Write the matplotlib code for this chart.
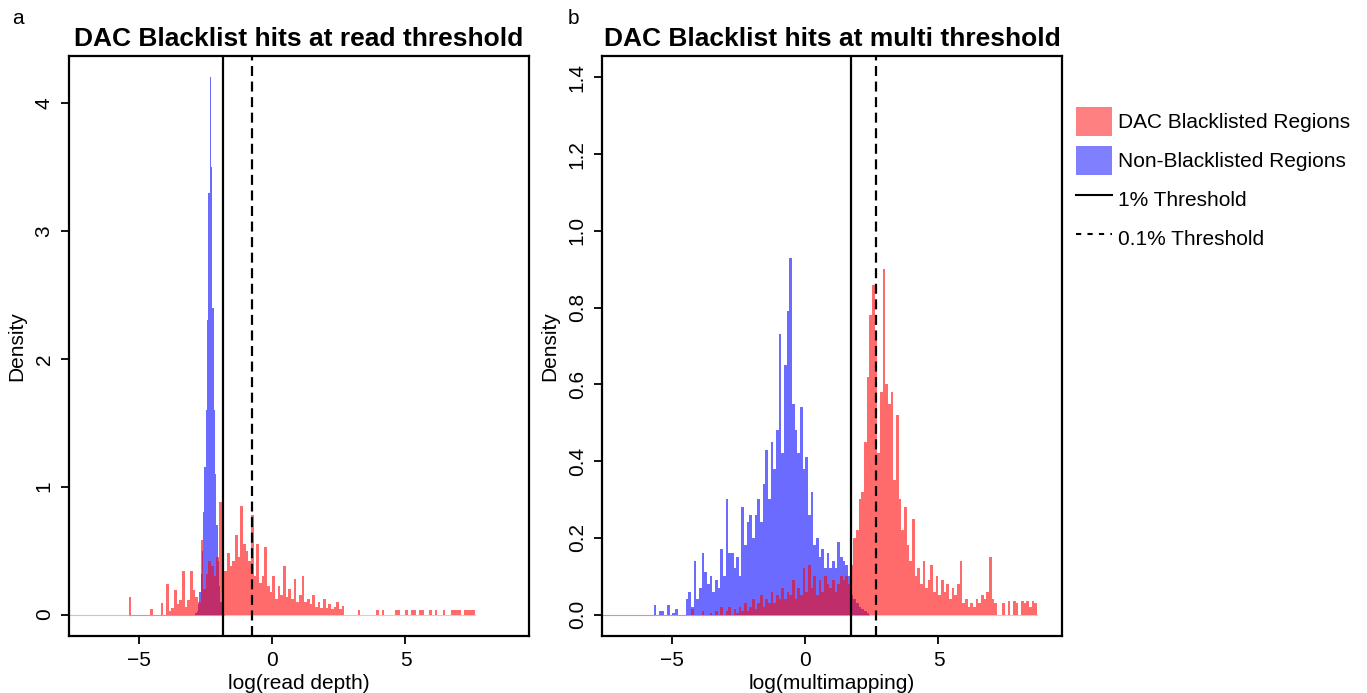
import numpy as np
import matplotlib
matplotlib.use("Agg")
import matplotlib.pyplot as plt
from matplotlib.patches import Patch
from matplotlib.lines import Line2D

plt.rcParams['font.family'] = ['Liberation Sans', 'DejaVu Sans']

# ---- panel a: log(read depth) ----
# blacklisted regions, density per 0.1 bin starting at -5.4
read_bl_start = -5.4
read_bl_width = 0.1
read_bl = [
    0.14, 0, 0, 0, 0, 0, 0, 0, 0.04, 0,
    0, 0, 0.09, 0, 0.24, 0.03, 0.05, 0.19, 0.08, 0.11,
    0.34, 0.06, 0.11, 0.34, 0.19, 0.14, 0.10, 0.58, 0.20, 0.32,
    0.42, 0.38, 0.30, 0.45, 0.88, 0.62, 0.34, 0.48, 0.38, 0.42,
    0.62, 0.45, 0.85, 0.55, 0.50, 0.42, 0.78, 0.30, 0.55, 0.25,
    0.30, 0.53, 0.22, 0.18, 0.30, 0.12, 0.22, 0.15, 0.38, 0.14,
    0.20, 0.12, 0.28, 0.10, 0.15, 0.30, 0.10, 0.12, 0.08, 0.15,
    0.06, 0.10, 0.05, 0.12, 0.05, 0.08, 0.04, 0.06, 0.10, 0.04,
    0.07, 0, 0, 0, 0, 0, 0.035, 0, 0, 0,
    0, 0, 0, 0.035, 0, 0.035, 0, 0, 0, 0,
    0.035, 0.035, 0, 0, 0.035, 0, 0.035, 0.035, 0, 0.035,
    0.035, 0, 0, 0.035, 0, 0.035, 0, 0, 0.035, 0,
    0, 0.035, 0.035, 0.035, 0.035, 0, 0.035, 0.035, 0.035, 0.035,
]
# non-blacklisted regions, density per 0.05 bin starting at -7.6
read_non_start = -7.6
read_non_width = 0.05
read_non = [0.0] * 94 + [
    0.01, 0.03, 0.08, 0.18, 0.32, 0.50, 0.80, 1.15, 1.60, 2.30,
    3.30, 4.20, 3.50, 2.40, 1.60, 1.10, 0.70, 0.42, 0.22, 0.10,
    0.04, 0.01,
]
read_thr_1 = -1.86
read_thr_01 = -0.77

# ---- panel b: log(multimapping) ----
# blacklisted regions, density per 0.1 bin starting at -7.6
multi_bl_start = -7.6
multi_bl_width = 0.1
multi_bl = [0.0] * 32 + [
    0, 0.015, 0, 0, 0, 0.01, 0, 0, 0.005, 0,
    0.01, 0, 0.02, 0, 0.01, 0.02, 0, 0.015, 0.005, 0.02,
    0.01, 0.03, 0.01, 0.02, 0.04, 0.015, 0.03, 0.05, 0.02, 0.04,
    0.03, 0.06, 0.03, 0.05, 0.04, 0.07, 0.04, 0.06, 0.05, 0.09,
    0.04, 0.07, 0.05, 0.12, 0.06, 0.13, 0.07, 0.10, 0.05, 0.09,
    0.06, 0.10, 0.08, 0.07, 0.09, 0.06, 0.08, 0.10, 0.09, 0.10,
    0.08, 0.13, 0.20, 0.22, 0.30, 0.32, 0.45, 0.62, 0.78, 0.86,
    0.72, 0.42, 0.58, 0.90, 0.60, 0.55, 0.58, 0.35, 0.52, 0.30,
    0.22, 0.28, 0.18, 0.14, 0.25, 0.10, 0.12, 0.08, 0.14, 0.07,
    0.09, 0.13, 0.06, 0.10, 0.05, 0.09, 0.06, 0.08, 0.04, 0.07,
    0.05, 0.08, 0.14, 0.03, 0.04, 0.02, 0.03, 0.02, 0.04, 0.03,
    0.05, 0.04, 0.06, 0.15, 0.04, 0.03, 0, 0, 0.03, 0,
    0.035, 0, 0.035, 0.03, 0, 0.035, 0.03, 0.035, 0.02, 0.035,
    0.03,
]
# non-blacklisted regions, density per 0.1 bin starting at -7.6
multi_non_start = -7.6
multi_non_width = 0.1
multi_non = [0.0] * 19 + [
    0.025, 0, 0.01, 0.01, 0, 0.025, 0, 0.005, 0.015, 0,
    0, 0, 0.04, 0.06, 0.02, 0.14, 0.04, 0.07, 0.16, 0.11,
    0.08, 0.10, 0.06, 0.09, 0.07, 0.17, 0.10, 0.30, 0.16, 0.16,
    0.12, 0.15, 0.10, 0.28, 0.18, 0.24, 0.26, 0.20, 0.26, 0.30,
    0.24, 0.34, 0.43, 0.30, 0.45, 0.38, 0.48, 0.73, 0.42, 0.65,
    0.79, 0.93, 0.55, 0.48, 0.42, 0.54, 0.38, 0.41, 0.26, 0.32,
    0.18, 0.20, 0.15, 0.17, 0.12, 0.16, 0.12, 0.14, 0.12, 0.19,
    0.15, 0.14, 0.13, 0.10, 0.05, 0.04, 0.03, 0.02, 0.015, 0.01,
    0.005,
]
multi_thr_1 = 1.71
multi_thr_01 = 2.66

red = (1, 0, 0, 0.58)
blue = (0, 0, 1, 0.58)


def draw_hist(ax, start, width, values, color):
    values = np.asarray(values, dtype=float)
    lefts = start + width * np.arange(len(values))
    ax.bar(lefts, values, width=width, align='edge', color=color,
           linewidth=0, antialiased=False)
    # thin outline along the zero line like the bin borders in the original
    ax.plot([lefts[0], lefts[-1] + width], [0, 0], color=color[:3], alpha=0.25, lw=0.8)


fig = plt.figure(figsize=(13.67, 6.93), dpi=100)
ax1 = fig.add_axes([69 / 1367, 57 / 693, 460 / 1367, 580 / 693])
ax2 = fig.add_axes([602 / 1367, 57 / 693, 460 / 1367, 580 / 693])

panels = [
    (ax1, read_non_start, read_non_width, read_non, read_bl_start, read_bl_width, read_bl,
     read_thr_1, read_thr_01, 'DAC Blacklist hits at read threshold', 'log(read depth)',
     (-0.168, 4.368), [0, 1, 2, 3, 4], '%d', 'a'),
    (ax2, multi_non_start, multi_non_width, multi_non, multi_bl_start, multi_bl_width, multi_bl,
     multi_thr_1, multi_thr_01, 'DAC Blacklist hits at multi threshold', 'log(multimapping)',
     (-0.056, 1.456), [0, 0.2, 0.4, 0.6, 0.8, 1.0, 1.2, 1.4], '%.1f', 'b'),
]

for (ax, ns, nw, nv, bs, bw, bv, t1, t01, title, xlabel, ylim, yticks, yfmt, letter) in panels:
    draw_hist(ax, ns, nw, nv, blue)
    draw_hist(ax, bs, bw, bv, red)
    ax.axvline(t1, color='black', lw=1.6)
    ax.axvline(t01, color='black', lw=1.6, dashes=(4.5, 2.5))
    ax.set_xlim(-7.64, 9.64)
    ax.set_ylim(*ylim)
    ax.set_xticks([-5, 0, 5])
    ax.set_xticklabels(['\u22125', '0', '5'])
    ax.set_yticks(yticks)
    ax.set_yticklabels([yfmt % v for v in yticks], rotation=90, va='center')
    ax.tick_params(direction='out', length=6, width=1.3, labelsize=15, pad=5)
    for s in ax.spines.values():
        s.set_linewidth(1.6)
    ax.set_title(title, fontsize=19, fontweight='bold', pad=7)
    ax.set_xlabel(xlabel, fontsize=15, labelpad=3)
    ax.set_ylabel('Density', fontsize=15, labelpad=6)

fig.text(18 / 1367, 1 - 18 / 693, 'a', fontsize=15, ha='center', va='center')
fig.text(573 / 1367, 1 - 18 / 693, 'b', fontsize=15, ha='center', va='center')

handles = [
    Patch(facecolor=(1, 0.5, 0.5), edgecolor='none'),
    Patch(facecolor=(0.5, 0.5, 1), edgecolor='none'),
    Line2D([], [], color='black', lw=1.5),
    Line2D([], [], color='black', lw=1.5, dashes=(2.5, 3)),
]
labels = ['DAC Blacklisted Regions', 'Non-Blacklisted Regions', '1% Threshold', '0.1% Threshold']
fig.legend(handles, labels, loc='upper left', bbox_to_anchor=(1076 / 1367, 1 - 107 / 693),
           frameon=False, fontsize=15, handlelength=1.75, handleheight=1.8,
           handletextpad=0.25, labelspacing=0.45, borderaxespad=0, borderpad=0)

fig.savefig('out.png', dpi=100)
